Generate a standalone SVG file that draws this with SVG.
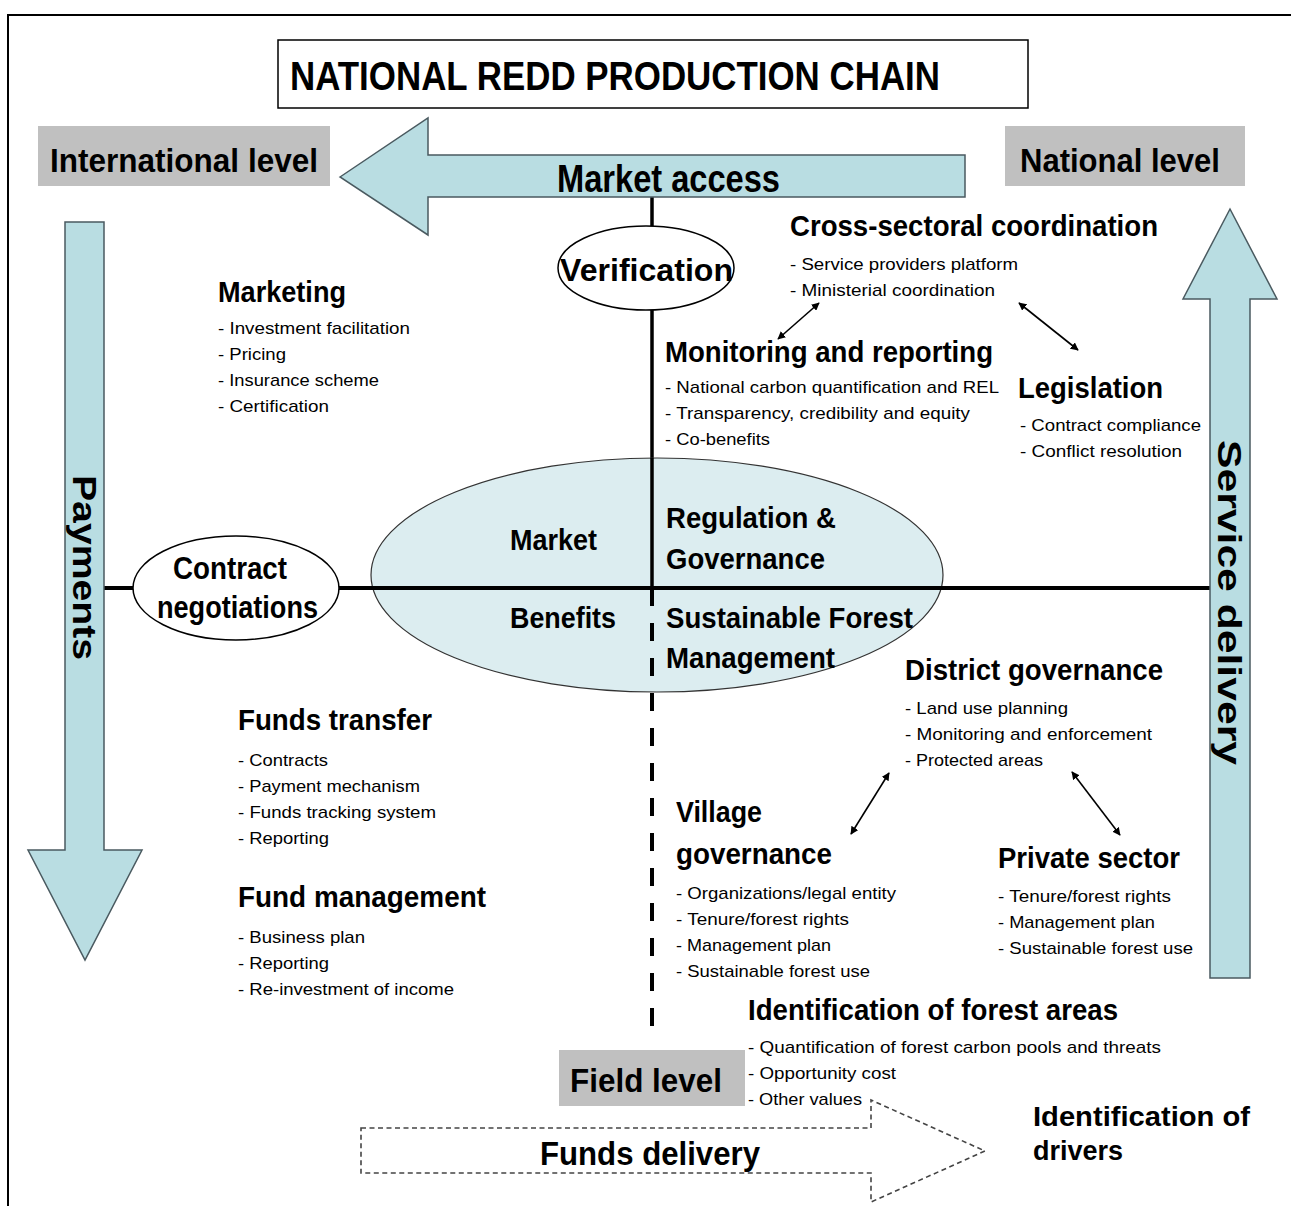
<svg xmlns="http://www.w3.org/2000/svg" width="1291" height="1206" viewBox="0 0 1291 1206">
<defs>
<style>
.h{font-family:"Liberation Sans",Arial,sans-serif;font-weight:bold;fill:#000}
.b{font-family:"Liberation Sans",Arial,sans-serif;font-size:17px;fill:#000}
.arr{fill:#b9dde2;stroke:#4a5a60;stroke-width:1.5}
.gray{fill:#c0c0c0}
.dbl{stroke:#000;stroke-width:1.6;fill:none;marker-start:url(#ah);marker-end:url(#ah)}
</style>
<marker id="ah" viewBox="0 0 10 10" refX="9" refY="5" markerWidth="5" markerHeight="5" orient="auto-start-reverse">
<path d="M0,0 L10,5 L0,10 z" fill="#000"/>
</marker>
</defs>
<rect width="1291" height="1206" fill="#fff"/>
<g id="border">
<path d="M1291,15 H8 V1206" fill="none" stroke="#000" stroke-width="2"/>
</g>
<g id="title">
<rect x="278" y="40" width="750" height="68" fill="#fff" stroke="#000" stroke-width="1.5"/>
<text class="h" x="290" y="90" font-size="40" textLength="650" lengthAdjust="spacingAndGlyphs">NATIONAL REDD PRODUCTION CHAIN</text>
</g>
<g id="international-level">
<rect class="gray" x="38" y="126" width="292" height="60"/>
<text class="h" x="50" y="172" font-size="34" textLength="268" lengthAdjust="spacingAndGlyphs">International level</text>
</g>
<g id="national-level">
<rect class="gray" x="1005" y="126" width="240" height="60"/>
<text class="h" x="1020" y="172" font-size="34" textLength="200" lengthAdjust="spacingAndGlyphs">National level</text>
</g>
<g id="connectors">
<line x1="652" y1="197" x2="652" y2="588" stroke="#000" stroke-width="3.5"/>
<line x1="652" y1="588" x2="652" y2="1028" stroke="#000" stroke-width="4" stroke-dasharray="18,17"/>
<line x1="104" y1="588" x2="1212" y2="588" stroke="#000" stroke-width="4"/>
<line class="dbl" x1="819" y1="303" x2="778" y2="339"/>
<line class="dbl" x1="1019" y1="303" x2="1078" y2="350"/>
<line class="dbl" x1="889" y1="773" x2="851" y2="834"/>
<line class="dbl" x1="1072" y1="772" x2="1120" y2="835"/>
</g>
<g id="market-access">
<polygon class="arr" points="340,177 428,118 428,155 965,155 965,197 428,197 428,235"/>
<text class="h" x="557" y="192" font-size="38" textLength="223" lengthAdjust="spacingAndGlyphs">Market access</text>
</g>
<g id="payments">
<polygon class="arr" points="65,222 104,222 104,850 142,850 85,960 28,850 65,850"/>
<text class="h" transform="translate(73,475) rotate(90)" font-size="34" textLength="185" lengthAdjust="spacingAndGlyphs">Payments</text>
</g>
<g id="service-delivery">
<polygon class="arr" points="1230,209 1277,299 1250,299 1250,978 1210,978 1210,299 1183,299"/>
<text class="h" transform="translate(1218,440) rotate(90)" font-size="34" textLength="325" lengthAdjust="spacingAndGlyphs">Service delivery</text>
</g>
<g id="central-ellipse">
<ellipse cx="657" cy="575" rx="286" ry="117" fill="#dcedf0" stroke="#333" stroke-width="1.2"/>
<line x1="371" y1="588" x2="943" y2="588" stroke="#000" stroke-width="4"/>
<line x1="652" y1="458" x2="652" y2="588" stroke="#000" stroke-width="3.5"/>
<line x1="652" y1="588" x2="652" y2="692" stroke="#000" stroke-width="4" stroke-dasharray="18,17"/>
<text class="h" x="510" y="550" font-size="30" textLength="87" lengthAdjust="spacingAndGlyphs">Market</text>
<text class="h" x="666" y="528" font-size="30" textLength="170" lengthAdjust="spacingAndGlyphs">Regulation &amp;</text>
<text class="h" x="666" y="569" font-size="30" textLength="159" lengthAdjust="spacingAndGlyphs">Governance</text>
<text class="h" x="510" y="628" font-size="30" textLength="106" lengthAdjust="spacingAndGlyphs">Benefits</text>
<text class="h" x="666" y="628" font-size="30" textLength="247" lengthAdjust="spacingAndGlyphs">Sustainable Forest</text>
<text class="h" x="666" y="668" font-size="30" textLength="169" lengthAdjust="spacingAndGlyphs">Management</text>
</g>
<g id="verification">
<ellipse cx="646" cy="268" rx="88" ry="42" fill="#fff" stroke="#000" stroke-width="1.5"/>
<text class="h" x="560" y="281" font-size="32" textLength="173" lengthAdjust="spacingAndGlyphs">Verification</text>
</g>
<g id="contract-negotiations">
<ellipse cx="236" cy="588" rx="103" ry="52" fill="#fff" stroke="#000" stroke-width="1.5"/>
<text class="h" x="173" y="579" font-size="31" textLength="114" lengthAdjust="spacingAndGlyphs">Contract</text>
<text class="h" x="157" y="618" font-size="31" textLength="161" lengthAdjust="spacingAndGlyphs">negotiations</text>
</g>
<g id="marketing">
<text class="h" x="218" y="302" font-size="30" textLength="128" lengthAdjust="spacingAndGlyphs">Marketing</text>
<text class="b" x="218" y="334" textLength="192" lengthAdjust="spacingAndGlyphs">- Investment facilitation</text>
<text class="b" x="218" y="360" textLength="68" lengthAdjust="spacingAndGlyphs">- Pricing</text>
<text class="b" x="218" y="386" textLength="161" lengthAdjust="spacingAndGlyphs">- Insurance scheme</text>
<text class="b" x="218" y="412" textLength="111" lengthAdjust="spacingAndGlyphs">- Certification</text>
</g>
<g id="cross-sectoral">
<text class="h" x="790" y="236" font-size="30" textLength="368" lengthAdjust="spacingAndGlyphs">Cross-sectoral coordination</text>
<text class="b" x="790" y="270" textLength="228" lengthAdjust="spacingAndGlyphs">- Service providers platform</text>
<text class="b" x="790" y="296" textLength="205" lengthAdjust="spacingAndGlyphs">- Ministerial coordination</text>
</g>
<g id="monitoring">
<text class="h" x="665" y="362" font-size="30" textLength="328" lengthAdjust="spacingAndGlyphs">Monitoring and reporting</text>
<text class="b" x="665" y="393" textLength="334" lengthAdjust="spacingAndGlyphs">- National carbon quantification and REL</text>
<text class="b" x="665" y="419" textLength="305" lengthAdjust="spacingAndGlyphs">- Transparency, credibility and equity</text>
<text class="b" x="665" y="445" textLength="105" lengthAdjust="spacingAndGlyphs">- Co-benefits</text>
</g>
<g id="legislation">
<text class="h" x="1018" y="398" font-size="30" textLength="145" lengthAdjust="spacingAndGlyphs">Legislation</text>
<text class="b" x="1020" y="431" textLength="181" lengthAdjust="spacingAndGlyphs">- Contract compliance</text>
<text class="b" x="1020" y="457" textLength="162" lengthAdjust="spacingAndGlyphs">- Conflict resolution</text>
</g>
<g id="district-governance">
<text class="h" x="905" y="680" font-size="30" textLength="258" lengthAdjust="spacingAndGlyphs">District governance</text>
<text class="b" x="905" y="714" textLength="163" lengthAdjust="spacingAndGlyphs">- Land use planning</text>
<text class="b" x="905" y="740" textLength="247" lengthAdjust="spacingAndGlyphs">- Monitoring and  enforcement</text>
<text class="b" x="905" y="766" textLength="138" lengthAdjust="spacingAndGlyphs">- Protected areas</text>
</g>
<g id="village-governance">
<text class="h" x="676" y="822" font-size="30" textLength="86" lengthAdjust="spacingAndGlyphs">Village</text>
<text class="h" x="676" y="864" font-size="30" textLength="156" lengthAdjust="spacingAndGlyphs">governance</text>
<text class="b" x="676" y="899" textLength="220" lengthAdjust="spacingAndGlyphs">- Organizations/legal entity</text>
<text class="b" x="676" y="925" textLength="173" lengthAdjust="spacingAndGlyphs">- Tenure/forest rights</text>
<text class="b" x="676" y="951" textLength="155" lengthAdjust="spacingAndGlyphs">- Management plan</text>
<text class="b" x="676" y="977" textLength="194" lengthAdjust="spacingAndGlyphs">- Sustainable forest use</text>
</g>
<g id="private-sector">
<text class="h" x="998" y="868" font-size="30" textLength="182" lengthAdjust="spacingAndGlyphs">Private sector</text>
<text class="b" x="998" y="902" textLength="173" lengthAdjust="spacingAndGlyphs">- Tenure/forest rights</text>
<text class="b" x="998" y="928" textLength="157" lengthAdjust="spacingAndGlyphs">- Management plan</text>
<text class="b" x="998" y="954" textLength="195" lengthAdjust="spacingAndGlyphs">- Sustainable forest use</text>
</g>
<g id="funds-transfer">
<text class="h" x="238" y="730" font-size="30" textLength="194" lengthAdjust="spacingAndGlyphs">Funds transfer</text>
<text class="b" x="238" y="766" textLength="90" lengthAdjust="spacingAndGlyphs">- Contracts</text>
<text class="b" x="238" y="792" textLength="182" lengthAdjust="spacingAndGlyphs">- Payment mechanism</text>
<text class="b" x="238" y="818" textLength="198" lengthAdjust="spacingAndGlyphs">- Funds tracking system</text>
<text class="b" x="238" y="844" textLength="91" lengthAdjust="spacingAndGlyphs">- Reporting</text>
</g>
<g id="fund-management">
<text class="h" x="238" y="907" font-size="30" textLength="248" lengthAdjust="spacingAndGlyphs">Fund management</text>
<text class="b" x="238" y="943" textLength="127" lengthAdjust="spacingAndGlyphs">- Business plan</text>
<text class="b" x="238" y="969" textLength="91" lengthAdjust="spacingAndGlyphs">- Reporting</text>
<text class="b" x="238" y="995" textLength="216" lengthAdjust="spacingAndGlyphs">- Re-investment of income</text>
</g>
<g id="identification-forest-areas">
<text class="h" x="748" y="1020" font-size="30" textLength="370" lengthAdjust="spacingAndGlyphs">Identification of forest areas</text>
<text class="b" x="748" y="1053" textLength="413" lengthAdjust="spacingAndGlyphs">- Quantification of forest carbon pools and threats</text>
<text class="b" x="748" y="1079" textLength="148" lengthAdjust="spacingAndGlyphs">- Opportunity cost</text>
<text class="b" x="748" y="1105" textLength="114" lengthAdjust="spacingAndGlyphs">- Other values</text>
</g>
<g id="field-level">
<rect class="gray" x="559" y="1050" width="186" height="56"/>
<text class="h" x="570" y="1092" font-size="33" textLength="152" lengthAdjust="spacingAndGlyphs">Field level</text>
</g>
<g id="funds-delivery">
<polygon points="361,1128 871,1128 871,1100 985,1151 871,1202 871,1173 361,1173" fill="#fff" stroke="#444" stroke-width="1.6" stroke-dasharray="5,3.5"/>
<text class="h" x="540" y="1165" font-size="33" textLength="220" lengthAdjust="spacingAndGlyphs">Funds delivery</text>
</g>
<g id="drivers">
<text class="h" x="1033" y="1126" font-size="27" textLength="217" lengthAdjust="spacingAndGlyphs">Identification of</text>
<text class="h" x="1033" y="1160" font-size="27">drivers</text>
</g>
</svg>
